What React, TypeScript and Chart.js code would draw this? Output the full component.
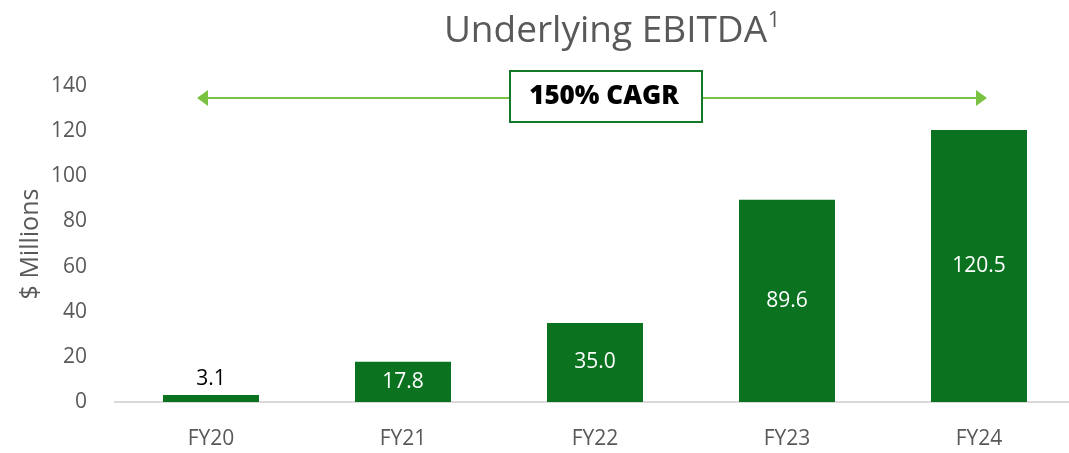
import React, { useEffect, useRef } from "react";
import { Chart, registerables } from "chart.js";

Chart.register(...registerables);

const categories = ["FY20", "FY21", "FY22", "FY23", "FY24"];
const ebitda = [3.1, 17.8, 35.0, 89.6, 120.5];
const valueLabels = ["3.1", "17.8", "35.0", "89.6", "120.5"];
const titleText = "Underlying EBITDA";
const titleSup = "1";
const cagrText = "150% CAGR";

const FONT = "'Open Sans', sans-serif";
const GREY = "#595959";
const BAR = "#0b7320";
const ARROW = "#7cc242";
const BOX = "#147a2a";

const overlay = {
  id: "overlay",
  afterDatasetsDraw(chart: any) {
    const ctx = chart.ctx;
    const meta = chart.getDatasetMeta(0);
    ctx.save();
    ctx.font = `21px ${FONT}`;
    ctx.textAlign = "center";
    meta.data.forEach((bar: any, i: number) => {
      const v = ebitda[i];
      if (v < 10) {
        ctx.fillStyle = "#000";
        ctx.textBaseline = "bottom";
        ctx.fillText(valueLabels[i], bar.x, bar.y - 5);
      } else {
        ctx.fillStyle = "#fff";
        ctx.textBaseline = "middle";
        ctx.fillText(valueLabels[i], bar.x, (bar.y + bar.base) / 2);
      }
    });
    ctx.restore();
  },
  afterDraw(chart: any) {
    const ctx = chart.ctx;
    ctx.save();
    // title
    ctx.fillStyle = GREY;
    ctx.textBaseline = "alphabetic";
    ctx.font = `37px ${FONT}`;
    const w = ctx.measureText(titleText).width;
    ctx.font = `21px ${FONT}`;
    const ws = ctx.measureText(titleSup).width;
    const cx = 612;
    const x0 = cx - (w + ws + 1) / 2;
    ctx.textAlign = "left";
    ctx.font = `37px ${FONT}`;
    ctx.fillText(titleText, x0, 42);
    ctx.font = `21px ${FONT}`;
    ctx.fillText(titleSup, x0 + w + 1, 27);

    // arrow
    const y = 98;
    const xl = 197, xr = 987;
    ctx.strokeStyle = ARROW;
    ctx.lineWidth = 2;
    ctx.beginPath();
    ctx.moveTo(xl + 8, y);
    ctx.lineTo(xr - 8, y);
    ctx.stroke();
    ctx.fillStyle = ARROW;
    ctx.beginPath();
    ctx.moveTo(xl, y);
    ctx.lineTo(xl + 11, y - 8);
    ctx.lineTo(xl + 11, y + 8);
    ctx.closePath();
    ctx.fill();
    ctx.beginPath();
    ctx.moveTo(xr, y);
    ctx.lineTo(xr - 11, y - 8);
    ctx.lineTo(xr - 11, y + 8);
    ctx.closePath();
    ctx.fill();

    // box
    ctx.fillStyle = "#fff";
    ctx.fillRect(510, 71, 192, 51);
    ctx.strokeStyle = BOX;
    ctx.lineWidth = 2;
    ctx.strokeRect(510, 71, 192, 51);
    ctx.fillStyle = "#000";
    ctx.font = `800 26px ${FONT}`;
    ctx.textAlign = "center";
    ctx.textBaseline = "middle";
    ctx.fillText(cagrText, 604, 97);
    ctx.restore();
  },
};

export default function App() {
  const ref = useRef<HTMLCanvasElement>(null);
  useEffect(() => {
    document.body.style.margin = "0";
    const chart = new Chart(ref.current!, {
      type: "bar",
      data: {
        labels: categories,
        datasets: [
          {
            data: ebitda,
            backgroundColor: BAR,
            barPercentage: 0.5,
            categoryPercentage: 1,
          },
        ],
      },
      options: {
        animation: false,
        responsive: false,
        maintainAspectRatio: false,
        layout: { padding: { top: 86, left: 0, right: 0, bottom: 0 } },
        plugins: { legend: { display: false }, tooltip: { enabled: false }, title: { display: false } },
        scales: {
          x: {
            grid: { display: false, drawTicks: false },
            border: { display: true, color: "#d9d9d9", width: 2 },
            ticks: { color: GREY, font: { family: FONT, size: 21 }, padding: 24 },
            afterFit(scale: any) {
              scale.height = 51;
            },
          },
          y: {
            min: 0,
            max: 140,
            grid: { display: false, drawTicks: false },
            border: { display: false },
            ticks: { stepSize: 20, color: GREY, font: { family: FONT, size: 21 }, padding: 28 },
            title: {
              display: true,
              text: "$ Millions",
              color: GREY,
              font: { family: FONT, size: 25 },
              padding: { top: 16, bottom: 0 },
            },
            afterFit(scale: any) {
              scale.width = 115;
            },
          },
        },
      },
      plugins: [overlay],
    });
    return () => chart.destroy();
  }, []);
  return (
    <div style={{ width: 1069, height: 453, overflow: "hidden", position: "relative" }}>
      <canvas ref={ref} width={1075} height={453} style={{ display: "block" }} />
    </div>
  );
}
